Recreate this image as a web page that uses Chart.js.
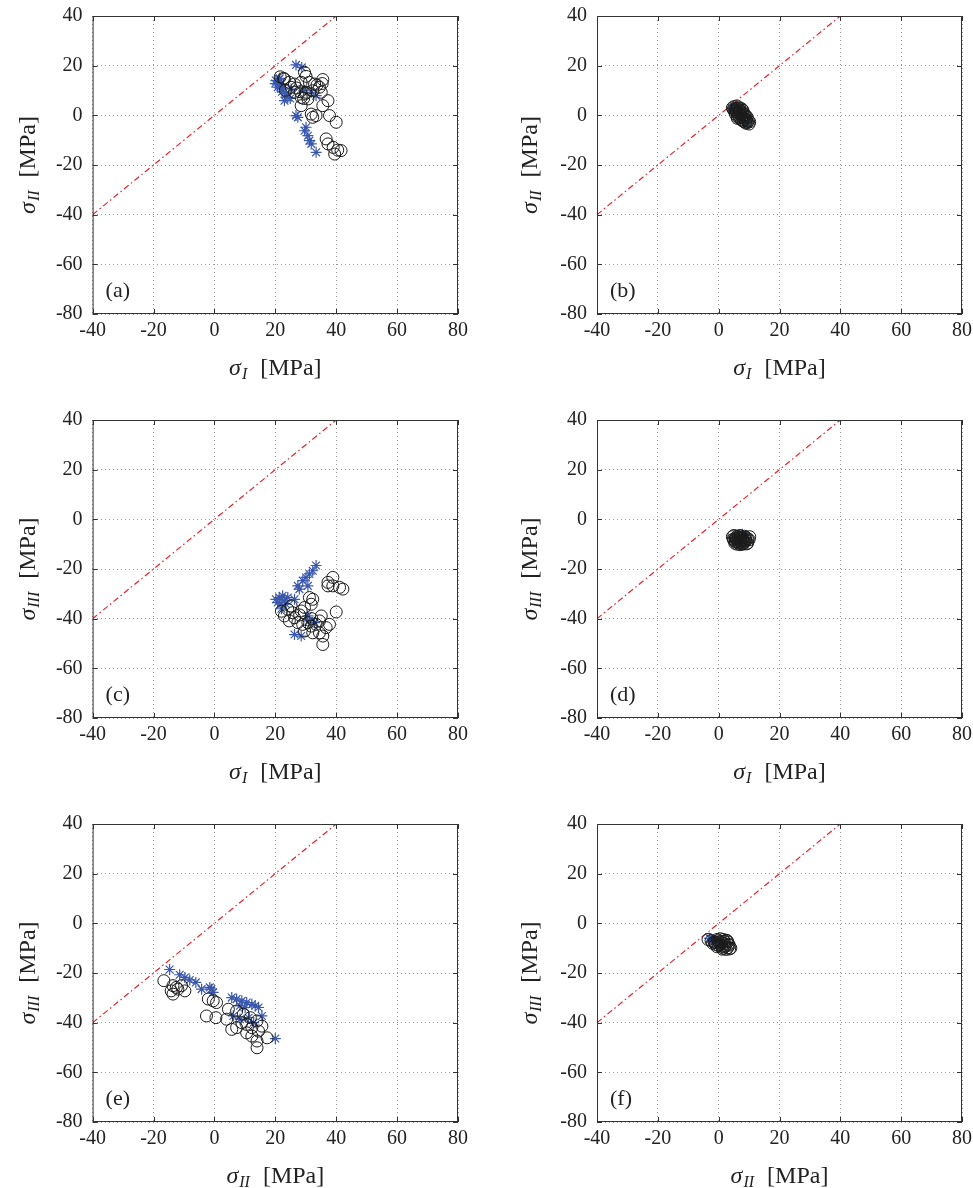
<!DOCTYPE html>
<html>
<head>
<meta charset="utf-8">
<script src="https://cdn.jsdelivr.net/npm/chart.js@4"></script>
<style>
  html, body { margin: 0; padding: 0; background: #fff; overflow: hidden; }
  body { width: 973px; height: 1188px; position: relative; }
  .panel { position: absolute; height: 392px; }
</style>
</head>
<body>
<div class="panel" style="left:0;top:0;width:475px"><canvas id="pa"></canvas></div>
<div class="panel" style="left:500px;top:0;width:480px"><canvas id="pb"></canvas></div>
<div class="panel" style="left:0;top:404px;width:475px"><canvas id="pc"></canvas></div>
<div class="panel" style="left:500px;top:404px;width:480px"><canvas id="pd"></canvas></div>
<div class="panel" style="left:0;top:808px;width:475px"><canvas id="pe"></canvas></div>
<div class="panel" style="left:500px;top:808px;width:480px"><canvas id="pf"></canvas></div>
<script>
// axis ticks shared by all six panels
const xTicks = [-40, -20, 0, 20, 40, 60, 80];
const yTicks = [-80, -60, -40, -20, 0, 20, 40];
const diagLine = [[-40, -40], [40, 40]];

// (a) sigma_I vs sigma_II
const aCircles = [[29.6,17.3],[30.1,15.7],[35.6,14.4],[35.4,12.8],[23,14.6],[24.6,13.3],[26.3,12.6],[28.5,13.3],[31.2,13.3],[32.9,12.6],[34.5,11.3],[21.6,15.5],[22.7,14.9],[26.3,9.3],[30.1,9.3],[32.3,9.9],[35.1,9.3],[28.5,7.2],[30.7,6.6],[29.3,6.8],[25.2,11.3],[23.3,10.1],[28.2,9.5],[33.7,12.2],[35.6,3.9],[37.3,5.9],[28.5,3.9],[32.3,-0.8],[31.8,0.5],[33.4,-0.1],[37.8,-0.1],[40,-2.8],[36.7,-9.5],[37.3,-11.5],[39,-12.9],[39.5,-15.6],[41.6,-14.2],[40.5,-14],[29.9,8.8],[27,11]];
const aStars = [[26.8,20.3],[28.7,19.3],[20.2,14],[21.3,14.6],[21.9,12.6],[20.8,11.3],[22.4,10.6],[23.5,8.6],[24.1,7.2],[23,5.9],[25.2,10.6],[21.4,14.9],[22.2,9.5],[24.9,6.8],[31.8,9.3],[33.4,7.9],[29.3,10.1],[27.4,-0.8],[26.8,-0.1],[30.1,-4.8],[29.6,-6.2],[30.7,-8.2],[31.2,-10.2],[31.8,-11.5],[33.4,-14.9],[20,12.8],[21.6,11.5]];

// (b)
const bCircles = [[4.5,3],[5,3.5],[5.5,2.5],[6,3.8],[6.5,3],[7,2.2],[5.2,1.5],[6,1],[7,1.5],[7.5,0.5],[8,1],[6.5,0],[7.8,-0.5],[8.5,-0.3],[8.8,-1.5],[9.2,-2],[9.5,-2.8],[10,-3.5],[9.8,-2.2],[7,3],[8,2],[6.8,-1],[8.2,-2.5],[9,-3.2],[5.8,2],[4.8,2.3],[7.4,-1.8],[8.6,0.3],[6.2,-0.6],[9.4,-0.8],[5.5,0.5],[6.8,1.8],[7.2,0],[8.3,-1.2],[9,-0.2],[5.9,2.8],[7.6,2.6],[6.4,1.2],[8.8,-2.8],[10.2,-2.6],[7.9,-2.2],[6.1,-1.2]];
const bStars = [[4.5,2.8],[5,3.2],[6,2],[7,1],[8,-1],[9,-2.6],[9.5,-3.2],[6.5,2.6]];

// (c) sigma_I vs sigma_III
const cCircles = [[38.9,-23.4],[37.3,-25.4],[37.3,-26.8],[38.9,-26.8],[41.1,-27.4],[42.2,-28.1],[31.2,-31.5],[32.3,-32.2],[31.8,-34.2],[29.6,-35.5],[28.5,-36.9],[25.2,-34.9],[24.1,-36.2],[25.7,-37.6],[23,-38.9],[24.6,-40.9],[26.3,-39.6],[27.4,-41.6],[29,-42.3],[30.7,-41.6],[31.8,-43],[33.4,-42.3],[34.5,-40.9],[35.1,-38.9],[40,-37.3],[36.7,-43.6],[34.5,-45.7],[35.6,-47],[35.6,-50.4],[32.3,-45.7],[29.6,-45],[37.8,-42.3],[22,-37],[28,-38.5],[32,-40]];
const cStars = [[33.4,-18.6],[32.3,-20.7],[31.2,-22],[30.1,-23.4],[29,-24.7],[27.4,-26.8],[27.9,-28.1],[30.7,-26.8],[20.2,-32.2],[21.3,-31.5],[22.4,-30.8],[23,-32.8],[20.8,-33.5],[21.9,-34.2],[23.5,-34.2],[24.1,-31.5],[26.3,-32.2],[30.7,-38.9],[31.2,-40.9],[32.9,-41.6],[26.3,-46.4],[28.5,-47],[22,-36]];

// (d)
const dCircles = [[4.5,-7],[5,-6.5],[5.5,-7.5],[6,-6.8],[6.5,-7.2],[7,-6.5],[7.5,-7],[8,-7.5],[8.5,-6.8],[9,-7.2],[9.5,-7.8],[5,-8.5],[5.5,-9],[6,-8.2],[6.5,-9.5],[7,-8.8],[7.5,-9.8],[8,-8.5],[8.5,-9.2],[9,-8.6],[9.5,-9.6],[10,-8.2],[6,-10],[7,-10.2],[8,-10],[4.8,-8],[10.2,-7],[5.8,-7.8],[6.8,-7.8],[7.8,-8.2],[8.8,-8],[6.2,-9],[7.3,-9.3],[8.3,-9.6],[9.2,-9.9],[5.3,-9.6],[7.2,-7.4]];
const dStars = [[8.2,-6.5],[7.8,-6],[5.2,-7.5],[6.5,-8.5],[9,-7.5]];

// (e) sigma_II vs sigma_III
const eCircles = [[-16.6,-23.1],[-13.6,-25.1],[-14.2,-27.2],[-12.5,-25.8],[-10.8,-25.1],[-9.7,-27.2],[-13.6,-28.5],[-2,-30.5],[-0.4,-31.2],[0.7,-31.9],[-2.6,-37.3],[0.5,-38],[4,-38.6],[5.7,-42.7],[4.6,-34.6],[7.3,-35.3],[9.5,-36.6],[11.8,-38],[14,-39.3],[9,-40],[10.6,-40.7],[12.3,-42],[10.6,-44.1],[12.3,-45.4],[14,-47.4],[14,-50.1],[17.3,-46.1],[7.3,-42],[14.5,-43.4],[15.6,-41.4],[-12,-26.5]];
const eStars = [[-14.7,-18.6],[-11.4,-20.7],[-9.7,-21.8],[-8.1,-22.8],[-6.1,-23.8],[-4.2,-26.5],[-1.5,-25.8],[-0.4,-27.8],[5.7,-29.9],[7.3,-30.5],[9,-31.2],[10.6,-31.9],[12.3,-32.6],[13.4,-33.2],[14.5,-33.9],[8.4,-33.2],[10.1,-33.9],[6.2,-37.3],[8.4,-38.6],[11.2,-38],[12.9,-40],[15.6,-37.3],[20,-46.4],[-1,-26.5]];

// (f)
const fCircles = [[-3.5,-6.5],[-2.5,-7],[-1.5,-7.5],[-0.5,-6.5],[0.5,-6.2],[1.5,-6.5],[2.5,-6.8],[3,-7.5],[0,-7.5],[1,-8],[2,-8.2],[-1,-8.5],[0,-9],[1,-9.2],[2,-9.5],[3,-9.8],[3.5,-8.8],[4,-10],[1.5,-10],[2.5,-10.5],[-2,-8],[0.5,-8.6],[2.8,-7],[-0.2,-7],[1.8,-7.2],[-1.2,-7.8],[0.8,-7.4],[2.2,-9],[3.2,-8.4],[-0.6,-9.4],[1.2,-10.4],[3.6,-10.3]];
const fStars = [[-3,-6],[-2,-6.8],[-1,-7],[0,-8],[1,-8.6],[-2.5,-6.2]];

const SERIF = '"Liberation Serif", "DejaVu Serif", serif';
const toXY = arr => arr.map(p => ({ x: p[0], y: p[1] }));

// frame, inward ticks, axis titles and panel letter
const framePlugin = {
    id: 'frame',
    afterDraw(chart, args, opts) {
        const { ctx, chartArea: a, scales } = chart;
        ctx.save();
        ctx.strokeStyle = '#333';
        ctx.lineWidth = 1;
        ctx.strokeRect(a.left + 0.5, a.top + 0.5, a.right - a.left - 1, a.bottom - a.top - 1);
        ctx.beginPath();
        xTicks.forEach(v => {
            const px = Math.round(scales.x.getPixelForValue(v)) + 0.5;
            ctx.moveTo(px, a.bottom); ctx.lineTo(px, a.bottom - 5);
            ctx.moveTo(px, a.top); ctx.lineTo(px, a.top + 5);
        });
        yTicks.forEach(v => {
            const py = Math.round(scales.y.getPixelForValue(v)) + 0.5;
            ctx.moveTo(a.left, py); ctx.lineTo(a.left + 5, py);
            ctx.moveTo(a.right, py); ctx.lineTo(a.right - 5, py);
        });
        ctx.stroke();

        ctx.fillStyle = '#222';
        ctx.textBaseline = 'middle';
        ctx.font = '22px ' + SERIF;
        ctx.textAlign = 'left';
        ctx.fillText(opts.label, a.left + 13, a.bottom - 23);

        drawTitle(ctx, opts.xSub, (a.left + a.right) / 2, a.bottom + 54, 0);
        drawTitle(ctx, opts.ySub, opts.yTitleX, (a.top + a.bottom) / 2, -Math.PI / 2);
        ctx.restore();
    }
};

function drawTitle(ctx, sub, cx, cy, rot) {
    const big = 'italic 24px ' + SERIF, small = 'italic 16px ' + SERIF, plain = '24px ' + SERIF;
    ctx.save();
    ctx.translate(cx, cy);
    ctx.rotate(rot);
    ctx.fillStyle = '#222';
    ctx.textAlign = 'left';
    ctx.textBaseline = 'alphabetic';
    ctx.font = big; const w1 = ctx.measureText('σ').width;
    ctx.font = small; const w2 = ctx.measureText(sub).width;
    ctx.font = plain; const w3 = ctx.measureText('[MPa]').width;
    const gap = 13;
    let x = -(w1 + 1 + w2 + gap + w3) / 2;
    const base = 7;
    ctx.font = big; ctx.fillText('σ', x, base); x += w1 + 1;
    ctx.font = small; ctx.fillText(sub, x, base + 4); x += w2 + gap;
    ctx.font = plain; ctx.fillText('[MPa]', x, base);
    ctx.restore();
}

function makePanel(id, circles, stars, label, xSub, ySub, leftW, rightPad, yTitleX) {
    const ctx = document.getElementById(id).getContext('2d');
    return new Chart(ctx, {
        type: 'scatter',
        data: {
            datasets: [{
                data: toXY(circles),
                pointStyle: 'circle',
                pointRadius: 6,
                borderColor: '#1a1a1a',
                backgroundColor: 'rgba(0,0,0,0)',
                borderWidth: 1
            }, {
                data: toXY(stars),
                pointStyle: 'star',
                pointRadius: 5.5,
                borderColor: '#3a58ad',
                backgroundColor: '#3a58ad',
                borderWidth: 1.2
            }, {
                type: 'line',
                data: toXY(diagLine),
                borderColor: '#e8232b',
                borderWidth: 1.2,
                borderDash: [6, 3, 1.5, 3],
                pointRadius: 0,
                fill: false
            }]
        },
        options: {
            responsive: true,
            maintainAspectRatio: false,
            animation: false,
            layout: { padding: { top: 16, right: rightPad, left: 0, bottom: 0 } },
            plugins: {
                legend: { display: false },
                tooltip: { enabled: false },
                frame: { label: label, xSub: xSub, ySub: ySub, yTitleX: yTitleX }
            },
            scales: {
                x: {
                    type: 'linear',
                    min: xTicks[0], max: xTicks[xTicks.length - 1],
                    afterBuildTicks: s => { s.ticks = xTicks.map(v => ({ value: v })); },
                    afterFit: s => { s.height = 78; },
                    ticks: { font: { family: SERIF, size: 20 }, color: '#222', padding: 0, maxRotation: 0 },
                    grid: { color: '#999', drawTicks: true, tickLength: 5, tickColor: 'rgba(0,0,0,0)' },
                    border: { display: false, dash: [1, 3] }
                },
                y: {
                    type: 'linear',
                    min: yTicks[0], max: yTicks[yTicks.length - 1],
                    afterBuildTicks: s => { s.ticks = yTicks.map(v => ({ value: v })); },
                    afterFit: s => { s.width = leftW; },
                    ticks: { font: { family: SERIF, size: 20 }, color: '#222', padding: 2 },
                    grid: { color: '#999', drawTicks: true, tickLength: 8, tickColor: 'rgba(0,0,0,0)' },
                    border: { display: false, dash: [1, 3] }
                }
            }
        },
        plugins: [framePlugin]
    });
}

makePanel('pa', aCircles, aStars, '(a)', 'I', 'II', 92.6, 17, 28);
makePanel('pb', bCircles, bStars, '(b)', 'I', 'II', 97, 18, 30);
makePanel('pc', cCircles, cStars, '(c)', 'I', 'III', 92.6, 17, 28);
makePanel('pd', dCircles, dStars, '(d)', 'I', 'III', 97, 18, 30);
makePanel('pe', eCircles, eStars, '(e)', 'II', 'III', 92.6, 17, 28);
makePanel('pf', fCircles, fStars, '(f)', 'II', 'III', 97, 18, 30);
</script>
</body>
</html>
